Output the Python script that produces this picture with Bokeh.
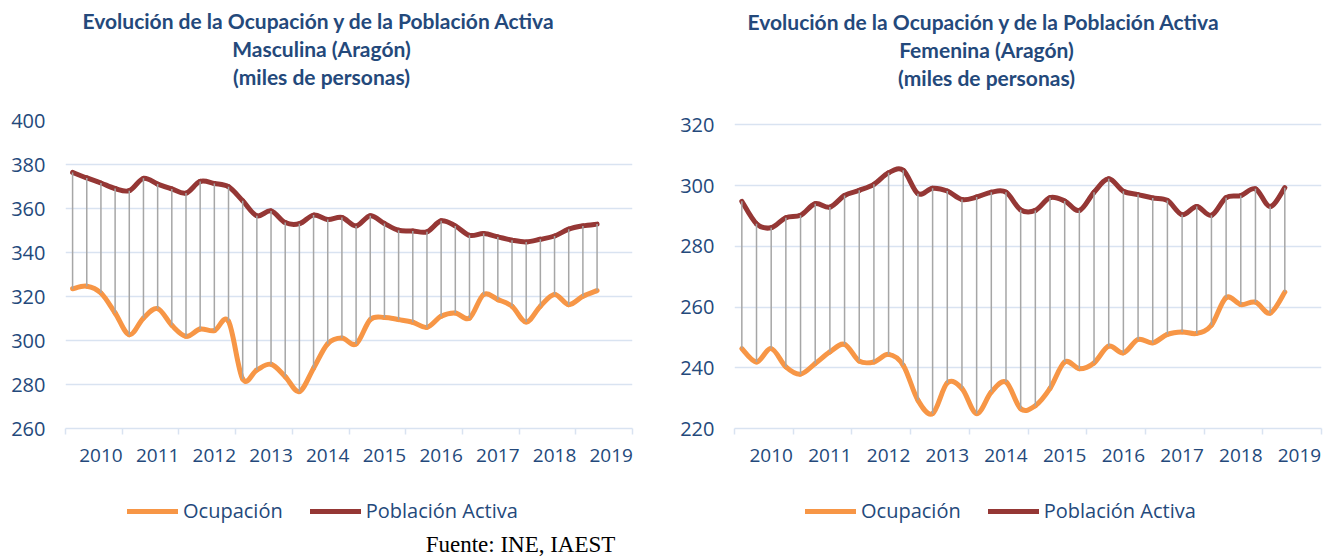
from bokeh.plotting import figure
from bokeh.models import Range1d, FixedTicker, Label, Legend, LegendItem
from bokeh.layouts import row, column
from bokeh.embed import file_html
from bokeh.resources import INLINE

# ---------------- data (miles de personas, trimestral) ----------------
years = ["2010", "2011", "2012", "2013", "2014", "2015", "2016", "2017", "2018", "2019"]
slots_per_year = 4

male_activa = [376.4, 373.9, 371.6, 369.1, 368.1, 373.7, 371.1, 368.9, 367.0, 372.3,
               371.4, 369.9, 363.5, 356.7, 358.9, 353.6, 353.1, 357.0, 355.0, 355.9,
               352.1, 356.7, 353.2, 350.1, 349.8, 349.4, 354.4, 352.1, 347.8, 348.6,
               347.1, 345.6, 344.8, 346.0, 347.5, 350.6, 352.1, 352.9]
male_ocupacion = [323.5, 324.7, 321.6, 312.5, 302.6, 310.2, 314.5, 306.9, 301.9, 305.2,
                  304.5, 308.7, 282.5, 286.6, 289.2, 283.6, 276.8, 287.4, 298.5, 301.1,
                  298.4, 309.5, 310.5, 309.5, 308.3, 306.0, 311.0, 312.5, 310.2, 320.9,
                  318.6, 315.6, 308.4, 315.6, 320.9, 316.3, 320.1, 322.7]

female_activa = [294.8, 287.4, 286.1, 289.4, 290.2, 294.0, 292.9, 296.7, 298.4, 300.4,
                 304.2, 305.0, 297.3, 299.1, 298.2, 295.4, 296.2, 297.8, 297.8, 292.0,
                 291.8, 296.0, 294.9, 291.8, 297.8, 302.2, 298.1, 297.0, 295.9, 295.1,
                 290.4, 293.1, 290.2, 296.0, 296.7, 298.9, 293.1, 299.3]
female_ocupacion = [246.3, 241.9, 246.3, 240.3, 237.9, 241.4, 245.2, 247.7, 242.2, 241.9,
                    244.4, 240.8, 229.3, 224.9, 235.0, 233.2, 224.9, 232.0, 235.3, 226.5,
                    227.5, 233.2, 241.9, 239.7, 241.6, 247.1, 244.9, 249.3, 248.2, 251.0,
                    251.8, 251.3, 254.0, 263.1, 260.8, 261.6, 258.0, 264.9]

male_ticks = [260, 280, 300, 320, 340, 360, 380, 400]
female_ticks = [220, 240, 260, 280, 300, 320]

title_lines_m = ["Evolución de la Ocupación y de la Población  Activa",
                 "Masculina (Aragón)", "(miles de personas)"]
title_lines_f = ["Evolución de la Ocupación y de la Población  Activa",
                 "Femenina (Aragón)", "(miles de personas)"]
legend_labels = ["Ocupación", "Población Activa"]
source_text = "Fuente: INE, IAEST"

# ---------------- styles / layout ----------------
ORANGE = "#F79646"
DARKRED = "#953735"
DROP = "#A6A6A6"
GRID = "#D9E3F1"
TEXT = "#24497B"
PAGE_W = 1323
HEAD_H = 106
CHART_H = 368
FOOT_H = 82
NAN = float("nan")


def smooth_segments(xs, ys):
    """Excel-style smoothed line: cubic Bezier pieces through the data points."""
    n = len(xs)
    seg = dict(x0=[], y0=[], x1=[], y1=[], cx0=[], cy0=[], cx1=[], cy1=[])
    for i in range(n - 1):
        xp, yp = (xs[i - 1], ys[i - 1]) if i > 0 else (xs[i], ys[i])
        xn, yn = (xs[i + 2], ys[i + 2]) if i + 2 < n else (xs[i + 1], ys[i + 1])
        seg["x0"].append(xs[i]); seg["y0"].append(ys[i])
        seg["x1"].append(xs[i + 1]); seg["y1"].append(ys[i + 1])
        seg["cx0"].append(xs[i] + (xs[i + 1] - xp) / 6.0)
        seg["cy0"].append(ys[i] + (ys[i + 1] - yp) / 6.0)
        seg["cx1"].append(xs[i + 1] - (xn - xs[i]) / 6.0)
        seg["cy1"].append(ys[i + 1] - (yn - ys[i]) / 6.0)
    return seg


def blank(width, height):
    p = figure(width=width, height=height, output_backend="svg", toolbar_location=None,
               x_range=Range1d(0, width), y_range=Range1d(0, height),
               min_border=0, min_border_left=0, min_border_right=0,
               min_border_top=0, min_border_bottom=0)
    p.axis.visible = False
    p.grid.visible = False
    p.outline_line_color = None
    return p


def make_panel(activa, ocupacion, yticks, yrange, width, borders):
    n_slots = len(years) * slots_per_year
    xs = [i + 0.5 for i in range(len(activa))]
    bl, br, bt, bb = borders
    p = figure(width=width, height=CHART_H, output_backend="svg", toolbar_location=None,
               x_range=Range1d(0, n_slots), y_range=Range1d(*yrange),
               min_border_left=bl, min_border_right=br, min_border_top=bt,
               min_border_bottom=bb)
    p.outline_line_color = None
    p.xgrid.visible = False
    p.ygrid.grid_line_color = GRID
    p.ygrid.grid_line_width = 1.5

    p.yaxis.ticker = FixedTicker(ticks=yticks)
    p.yaxis.axis_line_color = None
    p.yaxis.major_tick_line_color = None
    p.yaxis.minor_tick_line_color = None
    p.yaxis.major_tick_out = 0
    p.yaxis.major_tick_in = 0
    p.yaxis.major_label_standoff = 20
    p.yaxis.major_label_text_font = "Open Sans"
    p.yaxis.major_label_text_font_size = "20px"
    p.yaxis.major_label_text_color = TEXT

    label_pos = [k * slots_per_year + 2.5 for k in range(len(years))]
    bounds = [k * slots_per_year for k in range(len(years) + 1)]
    p.xaxis.ticker = FixedTicker(ticks=label_pos, minor_ticks=bounds)
    p.xaxis.major_label_overrides = {pos: yr for pos, yr in zip(label_pos, years)}
    p.xaxis.axis_line_color = GRID
    p.xaxis.axis_line_width = 1.5
    p.xaxis.major_tick_line_color = None
    p.xaxis.major_tick_out = 0
    p.xaxis.major_tick_in = 0
    p.xaxis.minor_tick_line_color = GRID
    p.xaxis.minor_tick_line_width = 1.5
    p.xaxis.minor_tick_out = 6
    p.xaxis.minor_tick_in = 0
    p.xaxis.major_label_standoff = 14
    p.xaxis.major_label_text_font = "Open Sans"
    p.xaxis.major_label_text_font_size = "19px"
    p.xaxis.major_label_text_color = TEXT

    so = smooth_segments(xs, ocupacion)
    sa = smooth_segments(xs, activa)
    p.bezier(source=so, x0="x0", y0="y0", x1="x1", y1="y1", cx0="cx0", cy0="cy0",
             cx1="cx1", cy1="cy1", line_color=ORANGE, line_width=5, line_cap="round")
    p.bezier(source=sa, x0="x0", y0="y0", x1="x1", y1="y1", cx0="cx0", cy0="cy0",
             cx1="cx1", cy1="cy1", line_color=DARKRED, line_width=5, line_cap="round")
    p.segment(x0=xs, y0=ocupacion, x1=xs, y1=activa, line_color=DROP, line_width=1.5)
    return p


# header with the two titles (page pixel coordinates, y measured upward)
header = blank(PAGE_W, HEAD_H)
for lines, cx, baselines in ((title_lines_m, 321, [19.5, 48.3, 75.8]),
                             (title_lines_f, 986, [20.5, 49.3, 77.0])):
    for txt, by in zip(lines, baselines):
        header.add_layout(Label(x=cx, y=HEAD_H - by, text=txt, text_align="center",
                                text_baseline="alphabetic", text_font="Lato",
                                text_font_style="bold", text_font_size="21px",
                                text_color=TEXT))

p1 = make_panel(male_activa, male_ocupacion, male_ticks, (260, 400),
                width=665, borders=(65, 33, 14, 46))
p2 = make_panel(female_activa, female_ocupacion, female_ticks, (220, 321.4),
                width=PAGE_W - 665, borders=(69, 2, 14, 46))

# footer: legend keys and source
footer = blank(PAGE_W, FOOT_H)
key_o = footer.line(x=[NAN], y=[NAN], line_color=ORANGE, line_width=5, line_cap="round")
key_a = footer.line(x=[NAN], y=[NAN], line_color=DARKRED, line_width=5, line_cap="round")
for lx in (127, 805):
    footer.add_layout(Legend(items=[LegendItem(label=legend_labels[0], renderers=[key_o]),
                                    LegendItem(label=legend_labels[1], renderers=[key_a])],
                             orientation="horizontal", location=(lx, 32),
                             padding=0, margin=0, spacing=27, label_standoff=5,
                             glyph_width=51, glyph_height=20,
                             border_line_color=None, background_fill_alpha=0,
                             label_text_font="Open Sans", label_text_font_size="20px",
                             label_text_color=TEXT))
footer.add_layout(Label(x=520, y=12, text=source_text, text_align="center",
                        text_baseline="alphabetic", text_font="Liberation Serif",
                        text_font_size="23px", text_color="black"))

layout = column(header, row(p1, p2), footer)
open("out.html", "w").write(file_html(layout, INLINE))
